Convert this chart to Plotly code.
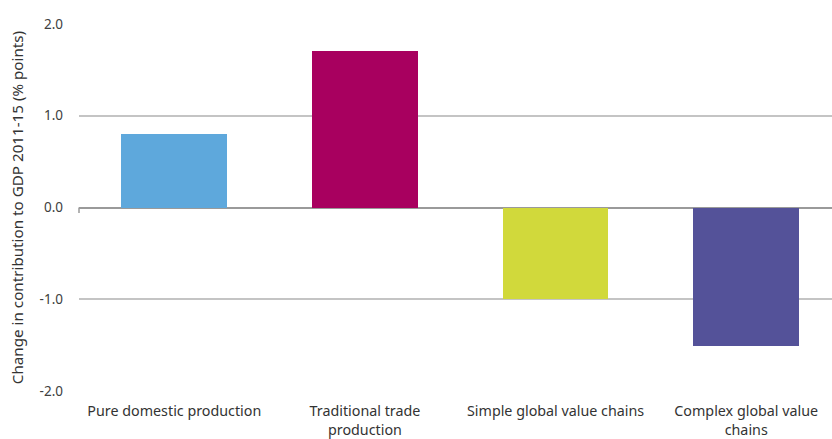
import plotly.graph_objects as go

categories = [
    "Pure domestic production",
    "Traditional trade<br>production",
    "Simple global value chains",
    "Complex global value<br>chains",
]
values = [0.8, 1.71, -1.0, -1.51]
colors = ["#5ea8dc", "#a8005f", "#d1d93b", "#545299"]
y_ticks = [-2, -1, 0, 1, 2]

fig = go.Figure(
    go.Bar(
        x=list(range(len(categories))),
        y=values,
        marker=dict(color=colors, line=dict(width=0)),
        width=0.555,
        hoverinfo="skip",
    )
)

font_family = "Noto Sans, Open Sans, sans-serif"

fig.update_layout(
    width=832,
    height=439,
    margin=dict(l=79, r=0, t=24, b=48),
    paper_bgcolor="white",
    plot_bgcolor="white",
    showlegend=False,
    bargap=0,
    font=dict(family=font_family, size=12, color="#404040"),
)

fig.update_xaxes(
    range=[-0.5, 3.45],
    tickmode="array",
    tickvals=list(range(len(categories))),
    ticktext=categories,
    tickfont=dict(size=14.3, color="#333333"),
    showgrid=False,
    zeroline=False,
    showline=False,
    ticks="",
    ticklabelstandoff=10,
)

fig.update_yaxes(
    range=[-2, 2],
    tickmode="array",
    tickvals=y_ticks,
    ticktext=[f"{v:.1f}" for v in y_ticks],
    tickfont=dict(size=13.5, color="#404040"),
    showgrid=True,
    gridcolor="#c4c4c4",
    gridwidth=1.5,
    zeroline=True,
    zerolinecolor="#9a9a9a",
    zerolinewidth=1.5,
    showline=False,
    ticks="",
    ticklabelstandoff=15,
    title=dict(
        text="Change in contribution to GDP 2011-15 (% points)",
        font=dict(size=15.2, color="#333333"),
        standoff=12,
    ),
)

# short tick mark at the left end of the zero line
fig.add_shape(
    type="line",
    xref="paper", yref="y",
    x0=0, x1=0, y0=0, y1=-0.06,
    line=dict(color="#9a9a9a", width=1.5),
)

fig.write_html("out.html")
